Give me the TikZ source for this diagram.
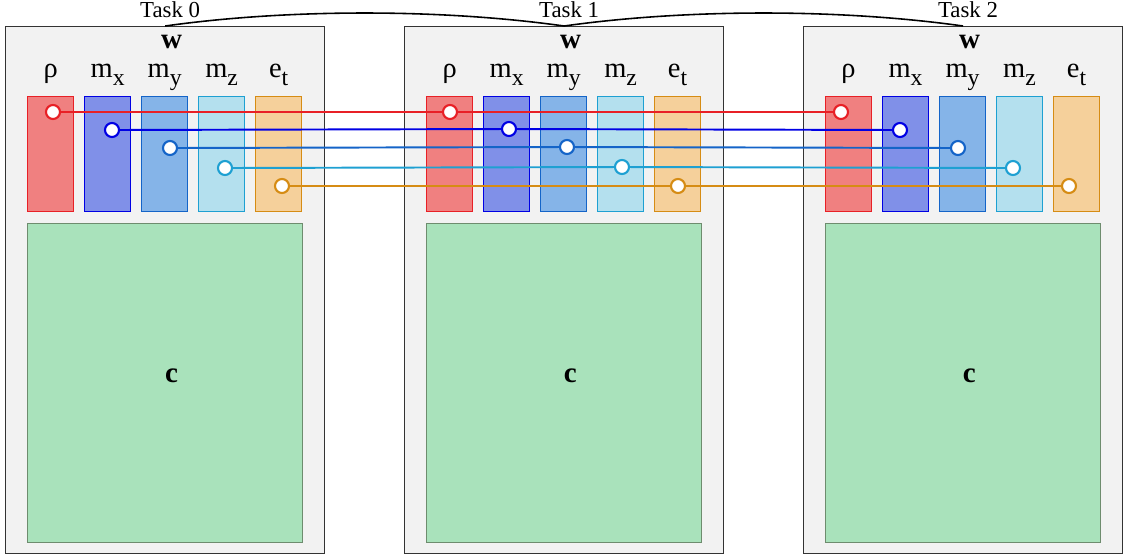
\documentclass[tikz,border=0pt]{standalone}
\usepackage{fontspec}
\setmainfont{Liberation Serif}
\usepackage{tikz}
\usetikzlibrary{positioning}

\definecolor{taskfill}{RGB}{242,242,242}
\definecolor{rhofill}{RGB}{240,128,128}
\definecolor{rholine}{RGB}{232,32,38}
\definecolor{mxfill}{RGB}{128,144,232}
\definecolor{mxline}{RGB}{0,0,228}
\definecolor{myfill}{RGB}{133,180,232}
\definecolor{myline}{RGB}{20,100,200}
\definecolor{mzfill}{RGB}{180,224,238}
\definecolor{mzline}{RGB}{30,160,210}
\definecolor{etfill}{RGB}{245,208,155}
\definecolor{etline}{RGB}{214,140,20}
\definecolor{cellfill}{RGB}{169,226,187}
\definecolor{cellline}{RGB}{110,140,110}

\newcommand{\lsub}[1]{\raisebox{-0.29em}{\fontsize{13.5pt}{14pt}\selectfont #1}}

\tikzstyle{task} = [rectangle, draw=black!80, line width=0.8pt, fill=taskfill, minimum width=6.38cm, minimum height=10.54cm]
\tikzstyle{field} = [rectangle, line width=0.8pt, minimum width=0.92cm, minimum height=2.3cm]
\tikzstyle{cell} = [rectangle, draw=cellline, line width=0.6pt, fill=cellfill, minimum width=5.5cm, minimum height=6.38cm]
\tikzstyle{lbl} = [inner sep=0pt, text height=0.42cm, text depth=0.18cm, font=\fontsize{16.2pt}{17pt}\selectfont]
\tikzstyle{head} = [inner sep=0pt, font=\fontsize{16.5pt}{17pt}\selectfont\bfseries]
\tikzstyle{tasklbl} = [inner sep=0pt, font=\fontsize{13pt}{14pt}\selectfont]
\tikzstyle{probe} = [circle, fill=white, line width=1.2pt, minimum size=0.28cm, inner sep=0pt]
\tikzstyle{link} = [line width=1.1pt]
\tikzstyle{span} = [line width=0.9pt, looseness=0.8]

\begin{document}
\begin{tikzpicture}[x=0.02cm, y=-0.02cm]
\useasboundingbox (0,0) rectangle (1123,556);

\node (task0) [task, anchor=north west] at (5,26) {};
\node (task1) [task, right=1.572cm of task0] {};
\node (task2) [task, right=1.572cm of task1] {};

\node (t0) [tasklbl, above=0.15cm of task0.north, xshift=0.1cm] {Task 0};
\node (t1) [tasklbl, above=0.15cm of task1.north, xshift=0.1cm] {Task 1};
\node (t2) [tasklbl, above=0.15cm of task2.north, xshift=0.1cm] {Task 2};
\draw [span] (task0.north) to[out=8,in=172] (task1.north) to[out=8,in=172] (task2.north);

\node (w0) [head, below=0.44cm of task0.north, anchor=base, xshift=0.13cm] {w};
\node (w1) [head, below=0.44cm of task1.north, anchor=base, xshift=0.13cm] {w};
\node (w2) [head, below=0.44cm of task2.north, anchor=base, xshift=0.13cm] {w};

% task 0
\node (rho0) [field, fill=rhofill, draw=rholine, below right=1.4cm and 0.44cm of task0.north west] {};
\node (mx0) [field, fill=mxfill, draw=mxline, right=0.192cm of rho0] {};
\node (my0) [field, fill=myfill, draw=myline, right=0.192cm of mx0] {};
\node (mz0) [field, fill=mzfill, draw=mzline, right=0.192cm of my0] {};
\node (et0) [field, fill=etfill, draw=etline, right=0.192cm of mz0] {};
\node (lrho0) [lbl, above=0.18cm of rho0] {ρ};
\node (lmx0) [lbl, above=0.18cm of mx0] {m\lsub{x}};
\node (lmy0) [lbl, above=0.18cm of my0] {m\lsub{y}};
\node (lmz0) [lbl, above=0.18cm of mz0] {m\lsub{z}};
\node (let0) [lbl, above=0.18cm of et0] {e\lsub{t}};
\node (cell0) [cell, below right=3.94cm and 0.44cm of task0.north west] {};
\node (c0) [head, anchor=base, xshift=0.13cm] at (cell0.center) {c};

% task 1
\node (rho1) [field, fill=rhofill, draw=rholine, below right=1.4cm and 0.44cm of task1.north west] {};
\node (mx1) [field, fill=mxfill, draw=mxline, right=0.192cm of rho1] {};
\node (my1) [field, fill=myfill, draw=myline, right=0.192cm of mx1] {};
\node (mz1) [field, fill=mzfill, draw=mzline, right=0.192cm of my1] {};
\node (et1) [field, fill=etfill, draw=etline, right=0.192cm of mz1] {};
\node (lrho1) [lbl, above=0.18cm of rho1] {ρ};
\node (lmx1) [lbl, above=0.18cm of mx1] {m\lsub{x}};
\node (lmy1) [lbl, above=0.18cm of my1] {m\lsub{y}};
\node (lmz1) [lbl, above=0.18cm of mz1] {m\lsub{z}};
\node (let1) [lbl, above=0.18cm of et1] {e\lsub{t}};
\node (cell1) [cell, below right=3.94cm and 0.44cm of task1.north west] {};
\node (c1) [head, anchor=base, xshift=0.13cm] at (cell1.center) {c};

% task 2
\node (rho2) [field, fill=rhofill, draw=rholine, below right=1.4cm and 0.44cm of task2.north west] {};
\node (mx2) [field, fill=mxfill, draw=mxline, right=0.192cm of rho2] {};
\node (my2) [field, fill=myfill, draw=myline, right=0.192cm of mx2] {};
\node (mz2) [field, fill=mzfill, draw=mzline, right=0.192cm of my2] {};
\node (et2) [field, fill=etfill, draw=etline, right=0.192cm of mz2] {};
\node (lrho2) [lbl, above=0.18cm of rho2] {ρ};
\node (lmx2) [lbl, above=0.18cm of mx2] {m\lsub{x}};
\node (lmy2) [lbl, above=0.18cm of my2] {m\lsub{y}};
\node (lmz2) [lbl, above=0.18cm of mz2] {m\lsub{z}};
\node (let2) [lbl, above=0.18cm of et2] {e\lsub{t}};
\node (cell2) [cell, below right=3.94cm and 0.44cm of task2.north west] {};
\node (c2) [head, anchor=base, xshift=0.13cm] at (cell2.center) {c};

% sample points
\node (prho0) [probe, draw=rholine] at (53,112) {};
\node (pmx0) [probe, draw=mxline] at (112,130) {};
\node (pmy0) [probe, draw=myline] at (170,148) {};
\node (pmz0) [probe, draw=mzline] at (225,168) {};
\node (pet0) [probe, draw=etline] at (282,186) {};
\node (prho1) [probe, draw=rholine] at (450,112) {};
\node (pmx1) [probe, draw=mxline] at (509,129) {};
\node (pmy1) [probe, draw=myline] at (567,147) {};
\node (pmz1) [probe, draw=mzline] at (622,167) {};
\node (pet1) [probe, draw=etline] at (678,186) {};
\node (prho2) [probe, draw=rholine] at (841,112) {};
\node (pmx2) [probe, draw=mxline] at (900,130) {};
\node (pmy2) [probe, draw=myline] at (958,148) {};
\node (pmz2) [probe, draw=mzline] at (1013,168) {};
\node (pet2) [probe, draw=etline] at (1069,186) {};

\draw [link, rholine] (prho0) -- (prho1) -- (prho2);
\draw [link, mxline] (pmx0) -- (pmx1) -- (pmx2);
\draw [link, myline] (pmy0) -- (pmy1) -- (pmy2);
\draw [link, mzline] (pmz0) -- (pmz1) -- (pmz2);
\draw [link, etline] (pet0) -- (pet1) -- (pet2);

\end{tikzpicture}
\end{document}
